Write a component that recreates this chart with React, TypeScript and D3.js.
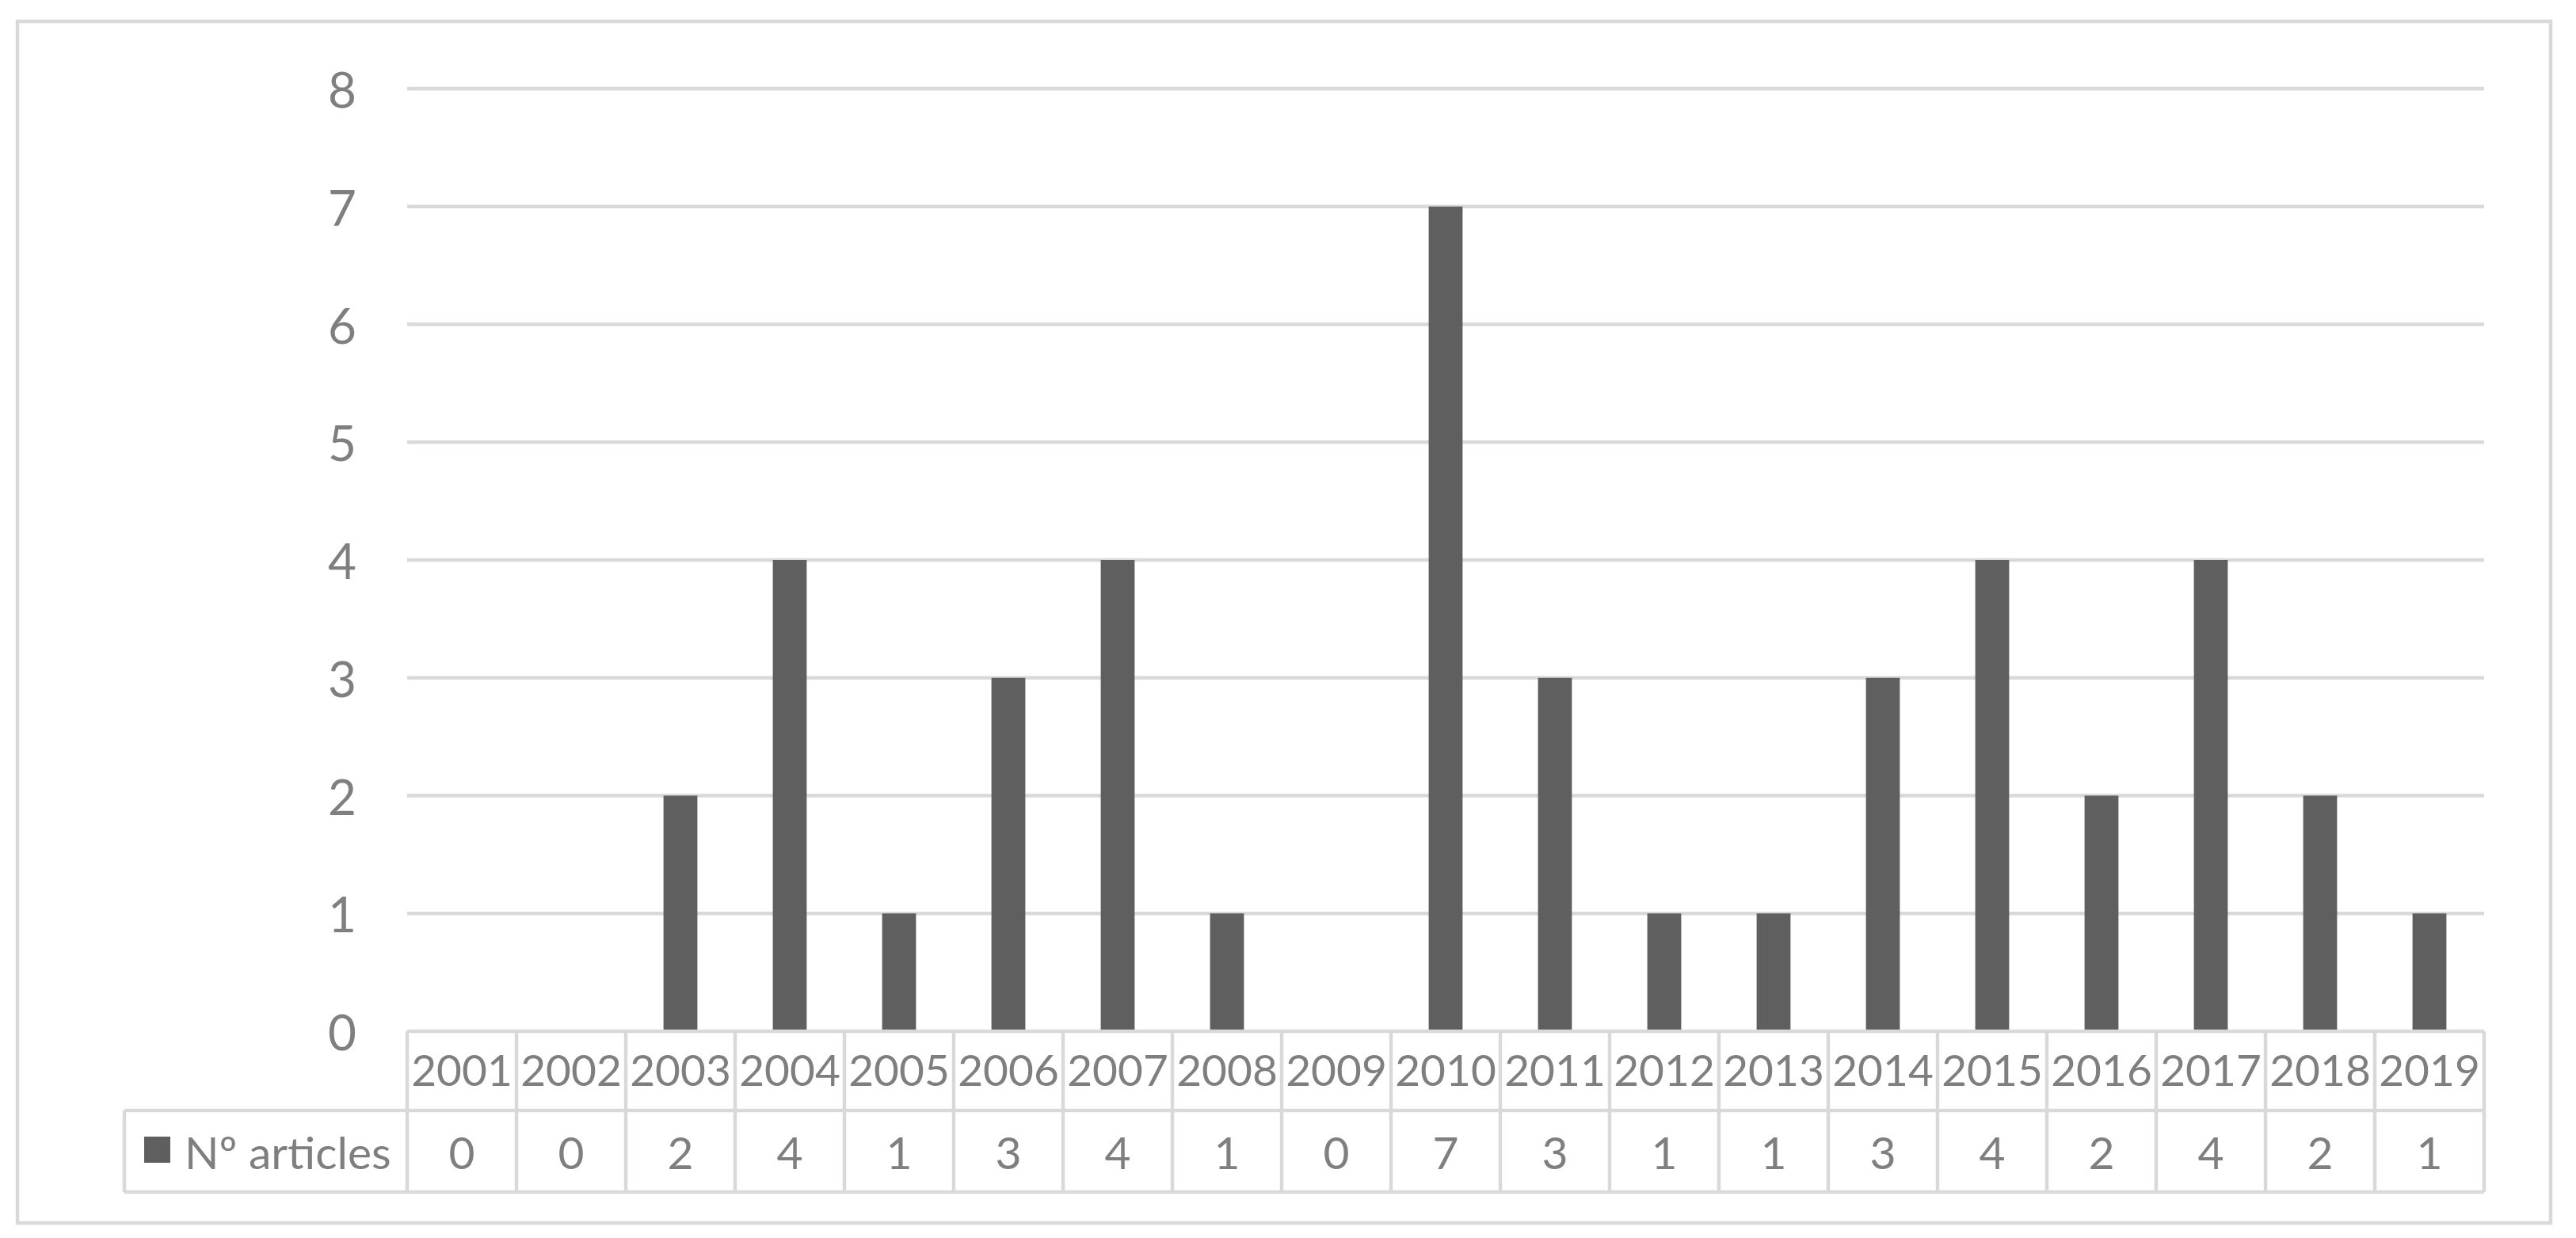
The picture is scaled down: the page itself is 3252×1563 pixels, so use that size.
import React from "react";
import * as d3 from "d3";

const years = ["2001","2002","2003","2004","2005","2006","2007","2008","2009","2010","2011","2012","2013","2014","2015","2016","2017","2018","2019"];
const articles = [0,0,2,4,1,3,4,1,0,7,3,1,1,3,4,2,4,2,1];
const yTicks = [0,1,2,3,4,5,6,7,8];
const seriesName = "Nº articles";

const W = 3252, H = 1563;
const plotL = 514, plotR = 3136, plotT = 112, plotB = 1302;
const rowMid = 1402, tableB = 1505, legendL = 157;
const grid = "#d9d9d9";
const textC = "#7f7f7f";
const barC = "#5f5f5f";
const font = "Lato, 'Open Sans', sans-serif";

export default function App() {
  const x = d3.scaleBand<string>().domain(years).range([plotL, plotR]);
  const y = d3.scaleLinear().domain([0, 8]).range([plotB, plotT]);
  const bw = x.bandwidth() * 0.31;

  return (
    <svg width={W} height={H} style={{ position: "absolute", left: 0, top: 0, background: "#fff" }}>
      <rect x={0} y={0} width={W} height={H} fill="#fff" />
      {/* outer border */}
      <rect x={22} y={27} width={3198} height={1517} fill="none" stroke={grid} strokeWidth={4.5} />
      {/* gridlines */}
      {yTicks.filter(t => t > 0).map(t => (
        <line key={"g" + t} x1={plotL} x2={plotR} y1={y(t)} y2={y(t)} stroke={grid} strokeWidth={4.5} />
      ))}
      {/* y tick labels */}
      {yTicks.map(t => (
        <text key={"t" + t} x={450} y={y(t)} textAnchor="end" dominantBaseline="central"
          fontFamily={font} fontSize={62} fill={textC}>{t}</text>
      ))}
      {/* bars */}
      {articles.map((v, i) => (
        v > 0 ? <rect key={"b" + i} x={(x(years[i]) as number) + (x.bandwidth() - bw) / 2} y={y(v)}
          width={bw} height={y(0) - y(v)} fill={barC} /> : null
      ))}
      {/* data table */}
      <line x1={plotL} x2={plotR} y1={plotB} y2={plotB} stroke={grid} strokeWidth={4.5} />
      <line x1={legendL} x2={plotR} y1={rowMid} y2={rowMid} stroke={grid} strokeWidth={4.5} />
      <line x1={legendL} x2={plotR} y1={tableB} y2={tableB} stroke={grid} strokeWidth={4.5} />
      <line x1={legendL} x2={legendL} y1={rowMid} y2={tableB} stroke={grid} strokeWidth={4.5} />
      {years.map((yr, i) => (
        <line key={"v" + i} x1={x(yr) as number} x2={x(yr) as number} y1={plotB} y2={tableB} stroke={grid} strokeWidth={4.5} />
      ))}
      <line x1={plotR} x2={plotR} y1={plotB} y2={tableB} stroke={grid} strokeWidth={4.5} />
      {years.map((yr, i) => (
        <text key={"yl" + i} x={(x(yr) as number) + x.bandwidth() / 2} y={(plotB + rowMid) / 2 - 2}
          textAnchor="middle" dominantBaseline="central" fontFamily={font} fontSize={55} fill={textC}>{yr}</text>
      ))}
      {articles.map((v, i) => (
        <text key={"vl" + i} x={(x(years[i]) as number) + x.bandwidth() / 2} y={(rowMid + tableB) / 2}
          textAnchor="middle" dominantBaseline="central" fontFamily={font} fontSize={57} fill={textC}>{v}</text>
      ))}
      {/* legend */}
      <rect x={182} y={1435} width={33} height={33} fill={barC} />
      <text x={233} y={(rowMid + tableB) / 2} dominantBaseline="central" fontFamily={font} fontSize={57} fill={textC}>{seriesName}</text>
    </svg>
  );
}
